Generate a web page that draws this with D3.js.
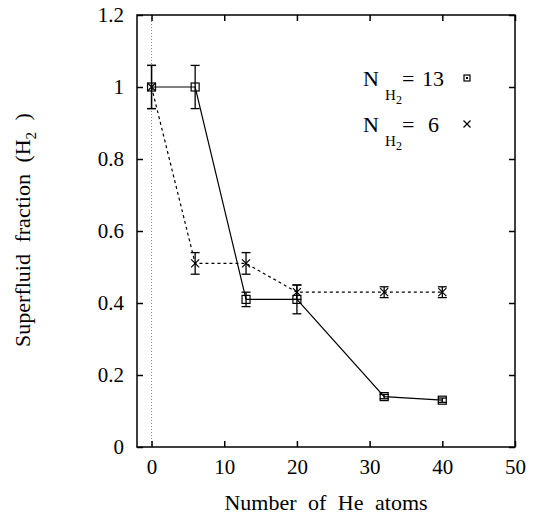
<!DOCTYPE html>
<html><head><meta charset="utf-8">
<script src="https://cdn.jsdelivr.net/npm/d3@7"></script>
<style>body{margin:0;background:#fff}</style>
</head><body><svg id="c" width="538" height="518" font-family="Liberation Serif"></svg>
<script>
const heAtoms = [0, 6, 13, 20, 32, 40];
const n13Values = [1.0, 1.0, 0.41, 0.41, 0.14, 0.13];
const n13Errors = [0.06, 0.06, 0.02, 0.04, 0.006, 0.006];
const n6Values = [1.0, 0.51, 0.51, 0.43, 0.43, 0.43];
const n6Errors = [0.06, 0.03, 0.03, 0.02, 0.015, 0.015];
const xTicks = [0, 10, 20, 30, 40, 50];
const yTicks = [0, 0.2, 0.4, 0.6, 0.8, 1.0, 1.2];

const FONT = "Liberation Serif";
const svg = d3.select("#c");
const L = 137, R = 515, T = 15, B = 447;
const x = d3.scaleLinear().domain([-2, 50]).range([L, R]);
const y = d3.scaleLinear().domain([0, 1.2]).range([B, T]);

function txt(g, xx, yy, size, s) {
  return g.append("text").attr("x", xx).attr("y", yy)
    .attr("font-family", FONT).attr("font-size", size).text(s);
}

// axis titles (created first)
txt(svg, 326, 510, 22, "Number of He atoms").attr("text-anchor", "middle").attr("word-spacing", 6);
const yt = svg.append("text").attr("transform", "translate(30,230) rotate(-90)")
  .attr("text-anchor", "middle").attr("font-family", FONT).attr("font-size", 22).attr("word-spacing", 6);
yt.append("tspan").text("Superfluid fraction (H");
yt.append("tspan").attr("font-size", 15).attr("dy", 6).text("2");
yt.append("tspan").attr("dy", -6).text(" )");

// legend texts
const legend = [{label: "13", y: 86, m: "sq"}, {label: "6", y: 132, m: "x"}];
legend.forEach(l => {
  txt(svg, 363, l.y, 22, "N");
  txt(svg, 385, l.y + 14, 15, "H");
  txt(svg, 396, l.y + 18, 12, "2");
  txt(svg, 402, l.y, 22, "=");
  txt(svg, l.label.length > 1 ? 422 : 428, l.y, 22, l.label);
});

svg.append("line").attr("x1", x(0)).attr("x2", x(0)).attr("y1", T).attr("y2", B)
  .attr("stroke", "#888").attr("stroke-width", 1).attr("stroke-dasharray", "1,2");

const tl = 6;
const fmtY = d => d === 0 ? "0" : d === 1 ? "1" : d3.format(".1f")(d);
const gx = svg.append("g").attr("transform", `translate(0,${B})`)
  .call(d3.axisBottom(x).tickValues(xTicks).tickSize(-tl).tickPadding(12).tickFormat(d3.format("d")));
const gxt = svg.append("g").attr("transform", `translate(0,${T})`)
  .call(d3.axisTop(x).tickValues(xTicks).tickSize(-tl).tickFormat(""));
const gy = svg.append("g").attr("transform", `translate(${L},0)`)
  .call(d3.axisLeft(y).tickValues(yTicks).tickSize(-tl).tickPadding(13).tickFormat(fmtY));
const gyr = svg.append("g").attr("transform", `translate(${R},0)`)
  .call(d3.axisRight(y).tickValues(yTicks).tickSize(-tl).tickFormat(""));
[gx, gxt, gy, gyr].forEach(g => {
  g.select(".domain").remove();
  g.attr("font-family", FONT).attr("font-size", 21);
  g.selectAll(".tick line").attr("stroke", "#000").attr("stroke-width", 1.5);
  g.selectAll(".tick text").attr("fill", "#000").attr("font-family", FONT).attr("font-size", 21);
});
svg.append("rect").attr("x", L).attr("y", T).attr("width", R - L).attr("height", B - T)
  .attr("fill", "none").attr("stroke", "#000").attr("stroke-width", 1.5);

const d13 = heAtoms.map((h, i) => ({x: h, y: n13Values[i], e: n13Errors[i]}));
const d6 = heAtoms.map((h, i) => ({x: h, y: n6Values[i], e: n6Errors[i]}));
svg.append("path").datum(d13).attr("fill", "none").attr("stroke", "#000").attr("stroke-width", 1.2)
  .attr("d", d3.line().x(d => x(d.x)).y(d => y(d.y)));
svg.append("path").datum(d6).attr("fill", "none").attr("stroke", "#000").attr("stroke-width", 1.2)
  .attr("stroke-dasharray", "3,3")
  .attr("d", d3.line().x(d => x(d.x)).y(d => y(d.y)));

function errBars(data) {
  const g = svg.append("g").attr("stroke", "#000").attr("stroke-width", 1.3);
  data.forEach(d => {
    const cx = x(d.x), y1 = y(d.y + d.e), y2 = y(d.y - d.e);
    g.append("line").attr("x1", cx).attr("x2", cx).attr("y1", y1).attr("y2", y2);
    g.append("line").attr("x1", cx - 4.5).attr("x2", cx + 4.5).attr("y1", y1).attr("y2", y1);
    g.append("line").attr("x1", cx - 4.5).attr("x2", cx + 4.5).attr("y1", y2).attr("y2", y2);
  });
}
errBars(d13);
errBars(d6);

function square(g, cx, cy, s) {
  g.append("rect").attr("x", cx - s / 2).attr("y", cy - s / 2).attr("width", s).attr("height", s)
    .attr("fill", "none").attr("stroke", "#000").attr("stroke-width", 1.2);
}
function cross(g, cx, cy, s) {
  g.append("path").attr("d", `M${cx - s},${cy - s}L${cx + s},${cy + s}M${cx - s},${cy + s}L${cx + s},${cy - s}`)
    .attr("stroke", "#000").attr("stroke-width", 1.2).attr("fill", "none");
}
const mg = svg.append("g");
d13.forEach(d => square(mg, x(d.x), y(d.y), 8));
d6.forEach(d => cross(mg, x(d.x), y(d.y), 4));

legend.forEach(l => {
  if (l.m === "sq") {
    square(mg, 467, l.y - 8, 6);
    mg.append("rect").attr("x", 466).attr("y", l.y - 9).attr("width", 2).attr("height", 2).attr("fill", "#000");
  } else cross(mg, 467, l.y - 8, 3.5);
});
</script></body></html>
